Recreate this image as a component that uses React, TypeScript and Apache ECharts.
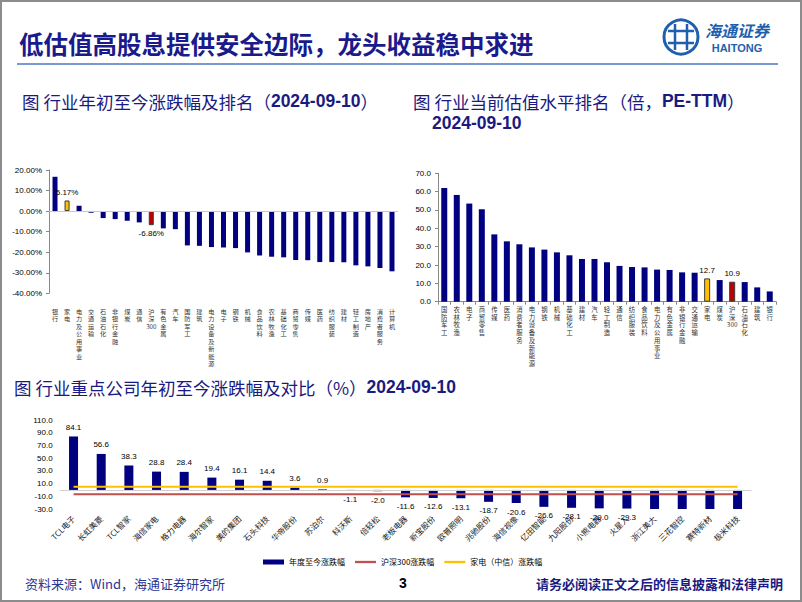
import React, { useEffect, useRef } from "react";
import * as echarts from "echarts";

// ---- Data ----
const ytdCategories = ["银行", "家电", "电力及公用事业", "交通运输", "石油石化", "非银行金融", "煤炭", "通信", "沪深300", "有色金属", "汽车", "国防军工", "建筑", "电力设备及新能源", "电子", "钢铁", "机械", "食品饮料", "农林牧渔", "基础化工", "商贸零售", "传媒", "医药", "纺织服装", "建材", "轻工制造", "房地产", "消费者服务", "计算机"];
const ytdValues = [16.7, 5.17, 2.6, -0.8, -3.4, -3.9, -4.7, -5.5, -6.86, -8.4, -8.8, -16.7, -16.9, -17.5, -17.7, -18.0, -20.1, -21.6, -22.2, -22.5, -23.8, -23.9, -24.8, -24.8, -24.9, -26.4, -26.9, -27.7, -29.3];

const peCategories = ["国防军工", "农林牧渔", "电子", "商贸零售", "传媒", "医药", "消费者服务", "电力设备及新能源", "钢铁", "机械", "基础化工", "建材", "汽车", "轻工制造", "通信", "纺织服装", "食品饮料", "电力及公用事业", "有色金属", "非银行金融", "交通运输", "家电", "煤炭", "沪深300", "石油石化", "建筑", "银行"];
const peValues = [62.0, 58.2, 53.5, 50.4, 36.7, 32.9, 31.3, 29.6, 28.4, 26.9, 25.3, 23.3, 23.3, 21.5, 19.5, 18.9, 18.7, 17.5, 17.3, 16.0, 15.8, 12.7, 11.8, 10.9, 10.7, 7.8, 5.6];

const companies = ["TCL电子", "长虹美菱", "TCL智家", "海信家电", "格力电器", "海尔智家", "美的集团", "石头科技", "华帝股份", "苏泊尔", "科沃斯", "倍轻松", "老板电器", "新宝股份", "欧普照明", "兆驰股份", "海信视像", "亿田智能", "九阳股份", "小熊电器", "火星人", "浙江美大", "三花智控", "赛特新材", "极米科技"];
const companyYtd = [84.1, 56.6, 38.3, 28.8, 28.4, 19.4, 16.1, 14.4, 3.6, 0.9, -1.1, -2.0, -11.6, -12.6, -13.1, -18.7, -20.6, -26.6, -28.1, -29.0, -29.3, -31.5, -33.0, -36.0, -42.0];
const hs300Ytd = -6.86;
const applianceYtd = 5.17;
const companyYTicks = [-30, -10, 10, 30, 50, 70, 90, 110];

const NAVY = "#000080";
const YELLOW = "#FFC000";
const RED = "#C00000";
const HS_LINE = "#C0504D";
const highlight: Record<string, string> = { "家电": YELLOW, "沪深300": RED };

const stackLabel = (s: string) => {
  const parts: string[] = [];
  let buf = "";
  for (const ch of s) {
    if (/[0-9A-Za-z]/.test(ch)) buf += ch;
    else {
      if (buf) { parts.push(buf); buf = ""; }
      parts.push(ch);
    }
  }
  if (buf) parts.push(buf);
  return parts.join("\n");
};

const FONT = "'Noto Sans CJK SC', 'Liberation Sans', sans-serif";
const ARIAL = "'Liberation Sans', Arial, sans-serif";
const SUB = 17.5;
const SUBC = "#1a1a80";
const LINE_ICON = "path://M0,0L22,0L22,2.4L0,2.4Z";

export default function App() {
  const ref = useRef<HTMLDivElement>(null);
  useEffect(() => {
    if (!ref.current) return;
    const chart = echarts.init(ref.current, null, { renderer: "svg" });
    const hlItem = (name: string, v: number, fmt: (x: number) => string) => {
      const c = highlight[name];
      if (!c) return { value: v };
      return {
        value: v,
        itemStyle: { color: c, borderColor: "#3a3a3a", borderWidth: 1 },
        label: {
          show: true,
          position: v >= 0 ? "top" : "bottom",
          distance: 4,
          formatter: () => fmt(v),
          fontSize: 8,
          fontFamily: ARIAL,
          color: "#000",
        },
      };
    };
    const subRich = { b: { fontSize: SUB, fontWeight: "bold", fill: SUBC, fontFamily: ARIAL } };
    const option: any = {
      animation: false,
      backgroundColor: "#fff",
      textStyle: { fontFamily: ARIAL },
      grid: [
        { left: 49, top: 170, width: 349, height: 123.3 },
        { left: 438, top: 173.3, width: 338, height: 128.4 },
        { left: 59.7, top: 420, width: 691.7, height: 89 },
      ],
      xAxis: [
        {
          type: "category", gridIndex: 0, data: ytdCategories,
          axisLine: { show: false }, axisTick: { show: false },
          axisLabel: { interval: 0, formatter: stackLabel, fontSize: 6.2, lineHeight: 7.5, color: "#333", margin: 14, fontFamily: FONT },
        },
        {
          type: "category", gridIndex: 1, data: peCategories,
          axisLine: { show: true, lineStyle: { color: "#888", width: 1 } },
          axisTick: { show: true, length: 3, lineStyle: { color: "#888" } },
          axisLabel: { interval: 0, formatter: stackLabel, fontSize: 6.4, lineHeight: 7.7, color: "#333", margin: 4, fontFamily: FONT },
        },
        {
          type: "category", gridIndex: 2, data: companies,
          axisLine: { show: false }, axisTick: { show: false },
          axisLabel: { interval: 0, rotate: 45, fontSize: 8, color: "#222", margin: 8, fontFamily: FONT },
        },
      ],
      yAxis: [
        {
          type: "value", gridIndex: 0, min: -40, max: 20, interval: 10,
          axisLine: { show: true, lineStyle: { color: "#888" } },
          axisTick: { show: true, length: 3, lineStyle: { color: "#888" } },
          splitLine: { show: false },
          axisLabel: { formatter: (v: number) => v.toFixed(2) + "%", fontSize: 8, color: "#000", margin: 7, fontFamily: ARIAL },
        },
        {
          type: "value", gridIndex: 1, min: 0, max: 70, interval: 10,
          axisLine: { show: true, lineStyle: { color: "#888" } },
          axisTick: { show: true, length: 3, lineStyle: { color: "#888" } },
          splitLine: { show: false },
          axisLabel: { formatter: (v: number) => v.toFixed(1), fontSize: 8, color: "#000", margin: 7, fontFamily: ARIAL },
        },
        {
          type: "value", gridIndex: 2, min: -30, max: 110,
          axisLine: { show: false }, axisTick: { show: false },
          splitLine: { show: false },
          axisLabel: { customValues: companyYTicks, formatter: (v: number) => v.toFixed(1), fontSize: 8, color: "#000", margin: 7, fontFamily: ARIAL },
        },
      ],
      legend: {
        left: 258, top: 553, itemWidth: 21, itemHeight: 5, itemGap: 10,
        textStyle: { fontSize: 8, color: "#000", fontFamily: FONT },
        data: [
          { name: "年度至今涨跌幅", icon: "rect" },
          { name: "沪深300涨跌幅", icon: LINE_ICON },
          { name: "家电（中信）涨跌幅", icon: LINE_ICON },
        ],
      },
      series: [
        {
          type: "bar", name: "行业年初至今涨跌幅", xAxisIndex: 0, yAxisIndex: 0, barWidth: 5,
          itemStyle: { color: NAVY },
          data: ytdCategories.map((c, i) => hlItem(c, ytdValues[i], (x) => x.toFixed(2) + "%")),
          markLine: { silent: true, symbol: "none", label: { show: false }, lineStyle: { color: "#c8c8c8", width: 1, type: "solid" }, data: [{ yAxis: 0 }] },
        },
        {
          type: "bar", name: "PE-TTM", xAxisIndex: 1, yAxisIndex: 1, barWidth: 6,
          itemStyle: { color: NAVY },
          data: peCategories.map((c, i) => hlItem(c, peValues[i], (x) => x.toFixed(1))),
        },
        {
          type: "bar", name: "年度至今涨跌幅", xAxisIndex: 2, yAxisIndex: 2, barWidth: 9,
          itemStyle: { color: NAVY },
          label: {
            show: true, fontSize: 8, color: "#000", fontFamily: ARIAL, distance: 5,
            formatter: (p: any) => (p.value < -30 ? "" : p.value.toFixed(1)),
          },
          data: companyYtd.map((v) => ({ value: v, label: { position: v >= 0 ? "top" : "bottom" } })),
          markLine: { silent: true, symbol: "none", label: { show: false }, lineStyle: { color: "#d0d0d0", width: 1, type: "solid" }, data: [{ yAxis: 0 }] },
        },
        {
          type: "line", name: "沪深300涨跌幅", xAxisIndex: 2, yAxisIndex: 2, symbol: "none",
          lineStyle: { color: HS_LINE, width: 2 }, itemStyle: { color: HS_LINE },
          data: companies.map(() => hs300Ytd),
        },
        {
          type: "line", name: "家电（中信）涨跌幅", xAxisIndex: 2, yAxisIndex: 2, symbol: "none",
          lineStyle: { color: YELLOW, width: 2 }, itemStyle: { color: YELLOW },
          data: companies.map(() => applianceYtd),
        },
      ],
      graphic: [
        { type: "rect", shape: { x: 1, y: 1, width: 800, height: 600 }, style: { fill: "none", stroke: "#8c8c8c", lineWidth: 2 }, silent: true },
        { type: "text", x: 19, y: 43, style: { text: "低估值高股息提供安全边际，龙头收益稳中求进", fontSize: 24.5, fontWeight: "bold", fill: "#1a1a8c", fontFamily: FONT, verticalAlign: "middle" } },
        { type: "line", shape: { x1: 17, y1: 64, x2: 778, y2: 64 }, style: { stroke: "#4a78c0", lineWidth: 1.5 } },
        // logo
        { type: "circle", shape: { cx: 681, cy: 37, r: 17 }, style: { fill: "none", stroke: "#1f5fae", lineWidth: 3 } },
        { type: "line", shape: { x1: 675, y1: 24, x2: 675, y2: 50 }, style: { stroke: "#1f5fae", lineWidth: 2.5 } },
        { type: "line", shape: { x1: 687, y1: 24, x2: 687, y2: 50 }, style: { stroke: "#1f5fae", lineWidth: 2.5 } },
        { type: "line", shape: { x1: 668, y1: 31, x2: 694, y2: 31 }, style: { stroke: "#1f5fae", lineWidth: 2.5 } },
        { type: "line", shape: { x1: 668, y1: 43, x2: 694, y2: 43 }, style: { stroke: "#1f5fae", lineWidth: 2.5 } },
        { type: "text", x: 705, y: 30, style: { text: "海通证券", fontSize: 16, fontStyle: "italic", fontWeight: "bold", fill: "#1f5fae", fontFamily: FONT, verticalAlign: "middle" } },
        { type: "text", x: 737, y: 48, style: { text: "HAITONG", fontSize: 11, fontWeight: "bold", fill: "#1f5fae", fontFamily: ARIAL, align: "center", verticalAlign: "middle" } },
        // subtitles
        { type: "text", x: 22, y: 101, style: { text: "图 行业年初至今涨跌幅及排名（{b|2024-09-10}）", fontSize: SUB, fill: SUBC, fontFamily: FONT, verticalAlign: "middle", rich: subRich } },
        { type: "text", x: 413, y: 101, style: { text: "图 行业当前估值水平排名（倍，{b|PE-TTM}）", fontSize: SUB, fill: SUBC, fontFamily: FONT, verticalAlign: "middle", rich: subRich } },
        { type: "text", x: 432, y: 123, style: { text: "{b|2024-09-10}", fontSize: SUB, fill: SUBC, fontFamily: FONT, verticalAlign: "middle", rich: subRich } },
        { type: "text", x: 14, y: 387, style: { text: "图 行业重点公司年初至今涨跌幅及对比（%）{b|2024-09-10}", fontSize: SUB, fill: SUBC, fontFamily: FONT, verticalAlign: "middle", rich: subRich } },
        // footer
        { type: "text", x: 25, y: 583, style: { text: "资料来源：Wind，海通证券研究所", fontSize: 13, fill: "#2b3595", fontFamily: FONT, verticalAlign: "middle" } },
        { type: "text", x: 403, y: 583, style: { text: "3", fontSize: 14, fontWeight: "bold", fill: "#000", fontFamily: ARIAL, align: "center", verticalAlign: "middle" } },
        { type: "text", x: 783, y: 583, style: { text: "请务必阅读正文之后的信息披露和法律声明", fontSize: 13, fontWeight: "bold", fill: "#1a1a80", fontFamily: FONT, align: "right", verticalAlign: "middle" } },
      ],
    };
    chart.setOption(option);
    return () => chart.dispose();
  }, []);
  return <div ref={ref} style={{ position: "fixed", left: 0, top: 0, width: 802, height: 602 }} />;
}
